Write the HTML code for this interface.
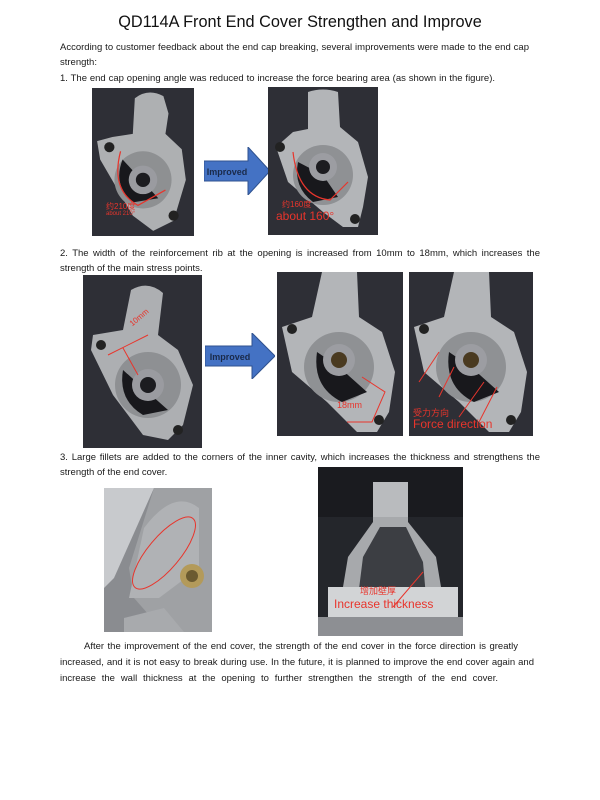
<!DOCTYPE html>
<html><head><meta charset="utf-8"><style>
*{margin:0;padding:0;box-sizing:border-box}
body{width:600px;height:800px;background:#fff;position:relative;font-family:"Liberation Sans","Noto Sans CJK SC",sans-serif;color:#222;overflow:hidden}
.t{position:absolute;font-size:9.5px;white-space:nowrap;color:#1a1a1a}
.j{width:480px;text-align:justify;text-align-last:justify}
.ph{position:absolute;background:#2e2f36;overflow:hidden}
.ph svg{position:absolute;left:0;top:0;width:100%;height:100%}
.arrow{position:absolute}
.red{position:absolute;color:#e8352c;white-space:nowrap}
</style></head><body>
<div class="t" style="left:0;width:600px;text-align:center;top:13px;font-size:16.3px;color:#111">QD114A Front End Cover Strengthen and Improve</div>
<div class="t j" style="left:60px;top:42px;width:469px">According to customer feedback about the end cap breaking, several improvements were made to the end cap</div>
<div class="t" style="left:60px;top:57px">strength:</div>
<div class="t j" style="left:60px;top:73px;width:435px">1. The end cap opening angle was reduced to increase the force bearing area (as shown in the figure).</div>

<div class="ph" style="left:92px;top:88px;width:102px;height:148px">
<svg viewBox="0 0 100 145" preserveAspectRatio="none"><path d="M42 10 Q55 0 70 8 L75 25 L72 45 L88 60 L92 90 L80 130 L60 140 L40 125 L8 70 L5 52 L20 48 L40 45 Z" fill="#aeb0b2"/><circle cx="50" cy="90" r="28" fill="#8e9092"/><path d="M30 70 Q20 95 40 112 L65 108 Z" fill="#18181c"/><circle cx="50" cy="90" r="14" fill="#9a9ba0"/><circle cx="50" cy="90" r="7" fill="#1c1c20"/><circle cx="17" cy="58" r="5" fill="#222"/><circle cx="80" cy="125" r="5" fill="#222"/><path d="M28 62 Q18 100 45 115 L72 100" stroke="#e8352c" fill="none" stroke-width="1.2"/></svg>
<div class="red" style="left:14px;top:113px;font-size:8px">约210度</div>
<div class="red" style="left:14px;top:123px;font-size:6px">about 210°</div>
</div>
<svg class="arrow" style="left:204px;top:147px" width="66" height="48" viewBox="0 0 66 48"><path d="M0 14 H44 V0 L66 24 L44 48 V34 H0 Z" fill="#4472c4" stroke="#2f528f" stroke-width="1"/><text x="23" y="28" font-size="9" font-weight="bold" fill="#1a2a4a" text-anchor="middle" font-family="Liberation Sans">Improved</text></svg>
<div class="ph" style="left:268px;top:87px;width:110px;height:148px">
<svg viewBox="0 0 110 148" preserveAspectRatio="none"><path d="M40 5 Q55 0 70 5 L72 40 L90 55 L100 90 L95 120 L90 140 L75 140 L55 125 L20 95 L8 60 L25 45 L40 42 Z" fill="#b3b5b8"/><circle cx="55" cy="88" r="30" fill="#8f9194"/><path d="M30 75 Q25 100 45 115 L70 110 L55 88 Z" fill="#18181c"/><circle cx="55" cy="80" r="14" fill="#9c9da2"/><circle cx="55" cy="80" r="7" fill="#1c1c20"/><circle cx="12" cy="60" r="5" fill="#222"/><circle cx="87" cy="132" r="5" fill="#222"/><path d="M25 65 Q30 110 62 113 L80 95" stroke="#e8352c" fill="none" stroke-width="1.2"/></svg>
<div class="red" style="left:14px;top:112px;font-size:8px">约160度</div>
<div class="red" style="left:8px;top:122px;font-size:12px">about 160°</div>
</div>

<div class="t j" style="left:60px;top:248px">2. The width of the reinforcement rib at the opening is increased from 10mm to 18mm, which increases the</div>
<div class="t" style="left:60px;top:263px">strength of the main stress points.</div>

<div class="ph" style="left:83px;top:275px;width:119px;height:173px">
<svg viewBox="0 0 119 173" preserveAspectRatio="none"><path d="M48 15 Q65 5 80 18 L75 60 L95 75 L110 110 L100 150 L85 165 L60 160 L30 120 L8 75 L10 60 L40 55 Z" fill="#adafb2"/><circle cx="65" cy="110" r="33" fill="#8e9093"/><path d="M40 95 Q35 125 60 140 L85 135 Z" fill="#18181c"/><circle cx="65" cy="110" r="16" fill="#9a9ba0"/><circle cx="65" cy="110" r="8" fill="#1c1c20"/><circle cx="18" cy="70" r="5" fill="#222"/><circle cx="95" cy="155" r="5" fill="#222"/><path d="M25 80 L65 60 M40 73 L55 100" stroke="#e8352c" fill="none" stroke-width="1"/></svg>
<div class="red" style="left:45px;top:38px;font-size:8px;transform:rotate(-40deg)">10mm</div>
</div>
<svg class="arrow" style="left:205px;top:333px" width="70" height="46" viewBox="0 0 70 46"><path d="M0 13 H47 V0 L70 23 L47 46 V33 H0 Z" fill="#4472c4" stroke="#2f528f" stroke-width="1"/><text x="25" y="27" font-size="9" font-weight="bold" fill="#1a2a4a" text-anchor="middle" font-family="Liberation Sans">Improved</text></svg>
<div class="ph" style="left:277px;top:272px;width:126px;height:164px">
<svg viewBox="0 0 126 164" preserveAspectRatio="none"><path d="M45 0 L80 0 L82 45 L105 60 L118 100 L112 140 L100 160 L80 160 L50 130 L15 100 L5 55 L35 45 Z" fill="#b3b5b8"/><circle cx="62" cy="95" r="35" fill="#8f9194"/><path d="M40 80 Q35 115 65 130 L90 120 L62 95 Z" fill="#18181c"/><circle cx="62" cy="88" r="16" fill="#9c9da2"/><circle cx="62" cy="88" r="8" fill="#4a3a20"/><circle cx="15" cy="57" r="5" fill="#222"/><circle cx="102" cy="148" r="5" fill="#222"/><path d="M85 105 L108 120 L95 150 L70 150" stroke="#e8352c" fill="none" stroke-width="1"/></svg>
<div class="red" style="left:60px;top:128px;font-size:9px">18mm</div>
</div>
<div class="ph" style="left:409px;top:272px;width:124px;height:164px">
<svg viewBox="0 0 124 164" preserveAspectRatio="none"><path d="M45 0 L80 0 L82 45 L105 60 L118 100 L112 140 L100 160 L80 160 L50 130 L15 100 L5 55 L35 45 Z" fill="#b3b5b8"/><circle cx="62" cy="95" r="35" fill="#8f9194"/><path d="M40 80 Q35 115 65 130 L90 120 L62 95 Z" fill="#18181c"/><circle cx="62" cy="88" r="16" fill="#9c9da2"/><circle cx="62" cy="88" r="8" fill="#4a3a20"/><circle cx="15" cy="57" r="5" fill="#222"/><circle cx="102" cy="148" r="5" fill="#222"/><path d="M10 110 L30 80 M30 125 L45 95 M50 145 L75 110 M70 150 L88 115" stroke="#e8352c" fill="none" stroke-width="1"/></svg>
<div class="red" style="left:4px;top:134px;font-size:9px">受力方向</div>
<div class="red" style="left:4px;top:145px;font-size:12px">Force direction</div>
</div>

<div class="t j" style="left:60px;top:452px">3. Large fillets are added to the corners of the inner cavity, which increases the thickness and strengthens the</div>
<div class="t" style="left:60px;top:467px">strength of the end cover.</div>

<div class="ph" style="left:104px;top:488px;width:108px;height:144px;background:#6d6e72">
<svg viewBox="0 0 108 144" preserveAspectRatio="none"><rect width="108" height="144" fill="#8a8c90"/><path d="M0 0 H50 L10 90 L0 100 Z" fill="#c8cacd"/><path d="M50 0 H108 V144 H60 L30 110 L25 80 Z" fill="#9fa1a4"/><path d="M40 40 Q70 0 95 20 L95 80 L55 110 L25 110 Z" fill="#b0b2b5"/><circle cx="88" cy="88" r="12" fill="#b39a5a"/><circle cx="88" cy="88" r="6" fill="#6b5a30"/><path d="M60 120 L20 130 L20 144 H80 Z" fill="#a8aaad"/><ellipse cx="60" cy="65" rx="16" ry="45" transform="rotate(40 60 65)" stroke="#e8352c" fill="none" stroke-width="1"/></svg>
</div>
<div class="ph" style="left:318px;top:467px;width:145px;height:169px;background:#24262b">
<svg viewBox="0 0 145 169" preserveAspectRatio="none"><rect width="145" height="50" fill="#1a1b1f"/><path d="M20 150 L30 90 L55 55 L55 20 L90 20 L90 55 L118 90 L128 150 Z" fill="#a7a9ac"/><path d="M40 130 L45 90 L62 60 H88 L105 95 L108 130 Z" fill="#3c3e43"/><rect x="55" y="15" width="35" height="35" fill="#b9bbbe"/><rect x="10" y="120" width="130" height="40" fill="#d2d4d6"/><rect x="0" y="150" width="145" height="19" fill="#8d8f93"/><path d="M75 140 L105 105" stroke="#e8352c" stroke-width="1"/></svg>
<div class="red" style="left:42px;top:117px;font-size:9px">增加壁厚</div>
<div class="red" style="left:16px;top:130px;font-size:12px">Increase thickness</div>
</div>

<div class="t j" style="left:84px;top:641px;width:434px">After the improvement of the end cover, the strength of the end cover in the force direction is greatly</div>
<div class="t j" style="left:60px;top:657px;width:474px">increased, and it is not easy to break during use. In the future, it is planned to improve the end cover again and</div>
<div class="t j" style="left:60px;top:673px;width:438px">increase the wall thickness at the opening to further strengthen the strength of the end cover.</div>
</body></html>
